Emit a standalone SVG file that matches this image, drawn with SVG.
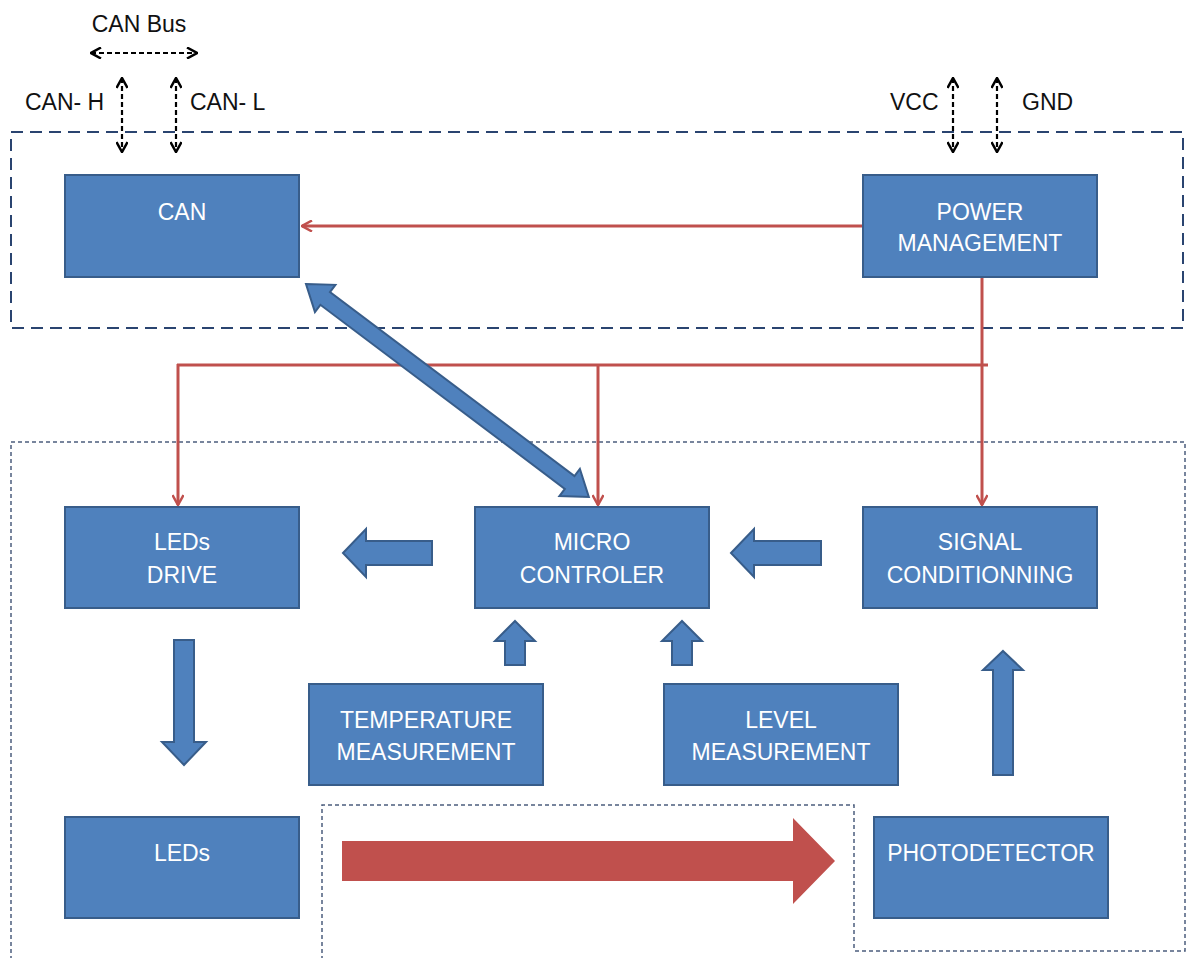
<svg xmlns="http://www.w3.org/2000/svg" width="1188" height="958" viewBox="0 0 1188 958">
<defs>
<style>
.box{fill:#4F81BD;stroke:#385D8A;stroke-width:2}
.bt{font-family:"Liberation Sans",Arial,sans-serif;font-size:23px;fill:#ffffff;text-anchor:middle}
.lt{font-family:"Liberation Sans",Arial,sans-serif;font-size:23px;fill:#111111}
.red{fill:none;stroke:#C0504D;stroke-width:3}
.blk{fill:none;stroke:#000;stroke-width:2.2;stroke-dasharray:5 3}
.barrow{fill:#4F81BD;stroke:#385D8A;stroke-width:2;stroke-linejoin:miter}
</style>
<marker id="ra" viewBox="0 0 12 12" refX="11" refY="6" markerWidth="12" markerHeight="12" markerUnits="userSpaceOnUse" orient="auto-start-reverse">
<path d="M1,0.5 L11,6 L1,11.5" fill="none" stroke="#C0504D" stroke-width="2.5"/>
</marker>
<marker id="ba" viewBox="0 0 12 12" refX="11" refY="6" markerWidth="12" markerHeight="12" markerUnits="userSpaceOnUse" orient="auto-start-reverse">
<path d="M1,0.5 L11,6 L1,11.5" fill="none" stroke="#000" stroke-width="2.5"/>
</marker>
</defs>
<rect width="1188" height="958" fill="#ffffff"/>

<g id="frames">
<rect x="11" y="132" width="1172" height="196" fill="none" stroke="#2A4470" stroke-width="2" stroke-dasharray="12 7"/>
<path d="M11,960 V442 H1185 V951 H854" fill="none" stroke="#4C5E7E" stroke-width="1.5" stroke-dasharray="4 3"/>
<path d="M322,960 V805 H854 V951" fill="none" stroke="#4C5E7E" stroke-width="1.5" stroke-dasharray="4 3"/>
</g>

<g id="labels">
<text class="lt" x="139" y="32" text-anchor="middle">CAN Bus</text>
<text class="lt" x="25" y="110">CAN- H</text>
<text class="lt" x="190" y="110">CAN- L</text>
<text class="lt" x="890" y="110">VCC</text>
<text class="lt" x="1022" y="110">GND</text>
</g>

<g id="connectors">
<line class="blk" x1="91" y1="53" x2="197" y2="53" marker-start="url(#ba)" marker-end="url(#ba)"/>
<line class="blk" x1="122" y1="78" x2="122" y2="152" marker-start="url(#ba)" marker-end="url(#ba)"/>
<line class="blk" x1="176" y1="78" x2="176" y2="152" marker-start="url(#ba)" marker-end="url(#ba)"/>
<line class="blk" x1="953" y1="78" x2="953" y2="152" marker-start="url(#ba)" marker-end="url(#ba)"/>
<line class="blk" x1="997" y1="78" x2="997" y2="152" marker-start="url(#ba)" marker-end="url(#ba)"/>

<line class="red" x1="863" y1="226" x2="302" y2="226" marker-end="url(#ra)"/>
<line class="red" x1="982" y1="277" x2="982" y2="505" marker-end="url(#ra)"/>
<line class="red" x1="177" y1="365" x2="988" y2="365"/>
<line class="red" x1="178" y1="364" x2="178" y2="505" marker-end="url(#ra)"/>
<line class="red" x1="598" y1="364" x2="598" y2="505" marker-end="url(#ra)"/>

<polygon class="barrow" transform="translate(306,284) rotate(36.97)" points="0,0 24,-17 24,-8 330,-8 330,-17 354,0 330,17 330,8 24,8 24,17"/>

<polygon class="barrow" points="343,553 366,529 366,541 432,541 432,565 366,565 366,577"/>
<polygon class="barrow" points="731,553 754,529 754,541 821,541 821,565 754,565 754,577"/>
<polygon class="barrow" points="174,640 194,640 194,742 206,742 184,765 162,742 174,742"/>
<polygon class="barrow" points="515,621 535,641 525,641 525,665 505,665 505,641 495,641"/>
<polygon class="barrow" points="682,621 702,641 692,641 692,665 672,665 672,641 662,641"/>
<polygon class="barrow" points="1003,651 1023,670 1013,670 1013,775 993,775 993,670 983,670"/>

<polygon fill="#C0504D" points="342,841 793,841 793,818 835,861 793,904 793,881 342,881"/>
</g>

<g id="node-can"><rect class="box" x="65" y="175" width="234" height="102"/><text class="bt" x="182" y="220">CAN</text></g>
<g id="node-power"><rect class="box" x="863" y="175" width="234" height="102"/><text class="bt" x="980" y="220">POWER</text><text class="bt" x="980" y="251">MANAGEMENT</text></g>
<g id="node-ledsdrive"><rect class="box" x="65" y="507" width="234" height="101"/><text class="bt" x="182" y="550">LEDs</text><text class="bt" x="182" y="583">DRIVE</text></g>
<g id="node-micro"><rect class="box" x="475" y="507" width="234" height="101"/><text class="bt" x="592" y="550">MICRO</text><text class="bt" x="592" y="583">CONTROLER</text></g>
<g id="node-signal"><rect class="box" x="863" y="507" width="234" height="101"/><text class="bt" x="980" y="550">SIGNAL</text><text class="bt" x="980" y="583">CONDITIONNING</text></g>
<g id="node-temp"><rect class="box" x="309" y="684" width="234" height="101"/><text class="bt" x="426" y="728">TEMPERATURE</text><text class="bt" x="426" y="760">MEASUREMENT</text></g>
<g id="node-level"><rect class="box" x="664" y="684" width="234" height="101"/><text class="bt" x="781" y="728">LEVEL</text><text class="bt" x="781" y="760">MEASUREMENT</text></g>
<g id="node-leds"><rect class="box" x="65" y="817" width="234" height="101"/><text class="bt" x="182" y="861">LEDs</text></g>
<g id="node-photo"><rect class="box" x="874" y="817" width="234" height="101"/><text class="bt" x="991" y="861">PHOTODETECTOR</text></g>
</svg>
